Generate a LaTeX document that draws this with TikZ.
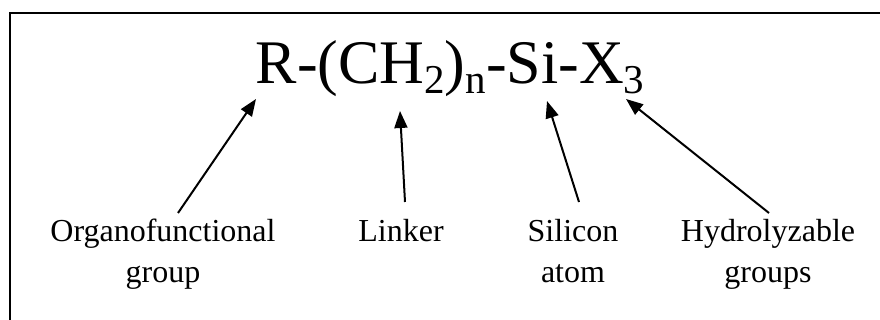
\documentclass[tikz,border=0pt]{standalone}
\usepackage{fontspec}
\setmainfont{Liberation Serif}
\usetikzlibrary{arrows.meta}
\newcommand\chemsub[1]{\raisebox{-0.15em}{\fontsize{41}{41}\selectfont #1}}
\begin{document}
\begin{tikzpicture}[x=1pt,y=-1pt,
  formula/.style={font=\fontsize{62}{70}\selectfont, inner sep=0pt, anchor=base},
  lbl/.style={font=\fontsize{32}{38}\selectfont, inner sep=0pt, anchor=base},
  arr/.style={line width=2pt, -{Triangle[length=17pt,width=13pt]}},
  frame/.style={line width=2.5pt}]
\useasboundingbox (0,0) rectangle (880,320);
\clip (0,0) rectangle (880,320);
\draw[frame] (10,13) rectangle (900,340);
\node[formula] (f) at (450,84) {R-(CH\chemsub{2})\chemsub{n}-Si-X\chemsub{3}};
\node[lbl] (org) at (163,242) {Organofunctional};
\node[lbl] (orgb) at (163,282) {group};
\node[lbl] (lnk) at (401,242) {Linker};
\node[lbl] (sil) at (573,242) {Silicon};
\node[lbl] (silb) at (573,282) {atom};
\node[lbl] (hyd) at (768,242) {Hydrolyzable};
\node[lbl] (hydb) at (768,282) {groups};
\coordinate (t1) at (178,213);
\coordinate (h1) at (256,99);
\coordinate (t2) at (405,202);
\coordinate (h2) at (400,111);
\coordinate (t3) at (579,202);
\coordinate (h3) at (547,101);
\coordinate (t4) at (769,213);
\coordinate (h4) at (626,99);
\draw[arr] (t1) -- (h1);
\draw[arr] (t2) -- (h2);
\draw[arr] (t3) -- (h3);
\draw[arr] (t4) -- (h4);
\end{tikzpicture}
\end{document}
